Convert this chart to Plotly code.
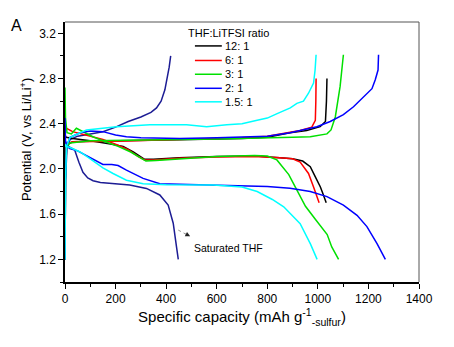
import plotly.graph_objects as go

# Galvanostatic charge/discharge profiles, specific capacity (mAh g-1 sulfur) vs potential (V)
series_names = ["12: 1", "6: 1", "3: 1", "2: 1", "1.5: 1"]
series_colors = ["#000000", "#ff0000", "#00e000", "#0000ff", "#00ffff"]
saturated_color = "#1c1c94"

# 12:1
r12_dis_cap = [0, 5, 30, 100, 180, 230, 270, 300, 315, 350, 450, 600, 750, 850, 900, 940, 970, 990, 1010, 1022, 1033]
r12_dis_v = [2.30, 2.28, 2.27, 2.25, 2.22, 2.20, 2.15, 2.11, 2.085, 2.085, 2.10, 2.11, 2.115, 2.10, 2.09, 2.07, 2.02, 1.93, 1.84, 1.77, 1.70]
r12_chg_cap = [0, 2, 6, 30, 100, 300, 500, 700, 800, 890, 956, 1009, 1030, 1034, 1036]
r12_chg_v = [1.70, 2.10, 2.21, 2.24, 2.245, 2.25, 2.26, 2.27, 2.28, 2.32, 2.34, 2.374, 2.42, 2.60, 2.80]

# 6:1
r6_dis_cap = [0, 5, 30, 100, 150, 200, 250, 290, 315, 350, 450, 600, 750, 850, 900, 930, 963, 983, 996, 1005]
r6_dis_v = [2.38, 2.36, 2.33, 2.29, 2.26, 2.22, 2.17, 2.11, 2.08, 2.08, 2.095, 2.105, 2.11, 2.10, 2.09, 2.06, 1.96, 1.84, 1.75, 1.70]
r6_chg_cap = [0, 2, 6, 30, 200, 500, 700, 800, 890, 930, 976, 990, 992, 993]
r6_chg_v = [1.70, 2.10, 2.22, 2.24, 2.245, 2.26, 2.275, 2.29, 2.32, 2.34, 2.37, 2.43, 2.60, 2.80]

# 3:1
r3_dis_cap = [0, 2, 8, 25, 45, 70, 110, 160, 210, 260, 295, 320, 360, 450, 600, 750, 800, 838, 860, 885, 911, 951, 990, 1037, 1055, 1082]
r3_dis_v = [2.72, 2.45, 2.32, 2.31, 2.36, 2.33, 2.285, 2.24, 2.20, 2.15, 2.10, 2.07, 2.075, 2.09, 2.11, 2.12, 2.115, 2.08, 2.02, 1.95, 1.84, 1.67, 1.555, 1.42, 1.31, 1.20]
r3_chg_cap = [0, 2, 6, 20, 100, 300, 600, 900, 970, 1036, 1052, 1069, 1088, 1101]
r3_chg_v = [1.20, 1.90, 2.20, 2.23, 2.25, 2.255, 2.265, 2.28, 2.285, 2.31, 2.345, 2.46, 2.73, 3.01]

# 2:1
r2_dis_cap = [0, 2, 8, 19, 50, 85, 150, 185, 210, 243, 280, 309, 375, 481, 641, 800, 890, 970, 1036, 1101, 1155, 1194, 1234, 1267]
r2_dis_v = [2.45, 2.25, 2.20, 2.18, 2.16, 2.12, 2.04, 2.04, 2.03, 1.99, 1.95, 1.917, 1.87, 1.864, 1.858, 1.845, 1.83, 1.80, 1.755, 1.68, 1.59, 1.49, 1.34, 1.20]
r2_chg_cap = [0, 2, 6, 20, 60, 100, 150, 200, 243, 300, 454, 600, 800, 851, 890, 930, 996, 1049, 1101, 1141, 1181, 1214, 1227, 1238, 1240]
r2_chg_v = [1.20, 1.90, 2.20, 2.28, 2.32, 2.335, 2.33, 2.30, 2.285, 2.275, 2.27, 2.275, 2.29, 2.305, 2.32, 2.34, 2.374, 2.42, 2.48, 2.55, 2.64, 2.71, 2.79, 2.875, 3.01]

# 1.5:1
r15_dis_cap = [0, 3, 20, 60, 100, 150, 190, 243, 309, 400, 586, 700, 760, 820, 865, 930, 971, 997]
r15_dis_v = [2.22, 2.20, 2.19, 2.15, 2.09, 2.01, 1.96, 1.90, 1.87, 1.86, 1.858, 1.84, 1.80, 1.73, 1.665, 1.515, 1.335, 1.20]
r15_chg_cap = [0, 2, 6, 20, 60, 85, 204, 336, 481, 560, 640, 700, 760, 800, 839, 891, 917, 943, 963, 983, 989, 993]
r15_chg_v = [1.20, 1.90, 2.20, 2.28, 2.32, 2.344, 2.374, 2.39, 2.39, 2.374, 2.39, 2.40, 2.43, 2.45, 2.49, 2.54, 2.58, 2.60, 2.67, 2.76, 2.875, 3.01]

# Saturated THF
sat_dis_cap = [0, 5, 20, 38, 55, 71, 90, 111, 140, 177, 256, 322, 375, 408, 428, 441, 448]
sat_dis_v = [2.25, 2.22, 2.19, 2.17, 2.06, 1.97, 1.92, 1.896, 1.88, 1.873, 1.858, 1.828, 1.77, 1.68, 1.52, 1.31, 1.20]
sat_chg_cap = [0, 2, 8, 20, 50, 100, 150, 200, 250, 300, 340, 362, 380, 395, 405, 412, 418]
sat_chg_v = [1.20, 1.90, 2.20, 2.26, 2.29, 2.31, 2.33, 2.37, 2.42, 2.46, 2.50, 2.54, 2.60, 2.70, 2.80, 2.90, 3.00]

x_ticks = [0, 200, 400, 600, 800, 1000, 1200, 1400]
y_ticks = [1.2, 1.6, 2.0, 2.4, 2.8, 3.2]

profiles = [
    (r12_dis_cap, r12_dis_v, r12_chg_cap, r12_chg_v),
    (r6_dis_cap, r6_dis_v, r6_chg_cap, r6_chg_v),
    (r3_dis_cap, r3_dis_v, r3_chg_cap, r3_chg_v),
    (r2_dis_cap, r2_dis_v, r2_chg_cap, r2_chg_v),
    (r15_dis_cap, r15_dis_v, r15_chg_cap, r15_chg_v),
]

FONT = "Arial, 'Liberation Sans', sans-serif"
LW = 1.5

fig = go.Figure()

# saturated THF drawn first, underneath the ratio series
for cx, cy in [(sat_dis_cap, sat_dis_v), (sat_chg_cap, sat_chg_v)]:
    fig.add_trace(go.Scatter(x=cx, y=cy, mode="lines", showlegend=False,
                             line=dict(color=saturated_color, width=LW)))

for name, color, (dx, dy, cx, cy) in zip(series_names, series_colors, profiles):
    fig.add_trace(go.Scatter(x=dx, y=dy, mode="lines", name=name, showlegend=False,
                             line=dict(color=color, width=LW)))
    fig.add_trace(go.Scatter(x=cx, y=cy, mode="lines", name=name, showlegend=False,
                             line=dict(color=color, width=LW)))

shapes = [
    # grey top and right frame
    dict(type="line", xref="paper", yref="paper", x0=0, x1=1, y0=1, y1=1,
         line=dict(color="#555555", width=1)),
    dict(type="line", xref="paper", yref="paper", x0=1, x1=1, y0=0, y1=1,
         line=dict(color="#555555", width=1)),
    # dotted pointer from the saturated THF curve towards its label
    dict(type="line", x0=448, y0=1.459, x1=485, y1=1.415,
         line=dict(color="#777777", width=0.8, dash="dot")),
]
annotations = [
    dict(text="A", xref="paper", yref="paper", x=-0.136, y=0.988, xanchor="center",
         yanchor="middle", showarrow=False, font=dict(family=FONT, size=16, color="#000")),
    dict(text="Potential (V, vs Li/Li<sup>+</sup>)", xref="paper", yref="paper",
         x=-0.11, y=0.546, textangle=-90, xanchor="center", yanchor="middle",
         showarrow=False, font=dict(family=FONT, size=13, color="#000")),
    dict(text="THF:LiTFSI ratio", xref="paper", yref="paper", x=0.343, y=0.959,
         xanchor="left", yanchor="middle", showarrow=False,
         font=dict(family=FONT, size=11, color="#000")),
    dict(text="", x=495, y=1.404, ax=472, ay=1.431, axref="x", ayref="y",
         showarrow=True, arrowhead=2, arrowsize=1.2, arrowwidth=0.8, arrowcolor="#222"),
    dict(text="Saturated THF", x=502, y=1.30, xanchor="left", yanchor="middle",
         showarrow=False, font=dict(family=FONT, size=10.5, color="#000")),
]

# legend keys
legend_y = [0.908, 0.852, 0.799, 0.745, 0.693]
for name, color, ly in zip(series_names, series_colors, legend_y):
    shapes.append(dict(type="line", xref="paper", yref="paper", x0=0.367, x1=0.443,
                       y0=ly, y1=ly, line=dict(color=color, width=LW)))
    annotations.append(dict(text=name, xref="paper", yref="paper", x=0.447, y=ly,
                            xanchor="left", yanchor="middle", showarrow=False,
                            font=dict(family=FONT, size=11, color="#000")))

axis_common = dict(
    showgrid=False, zeroline=False, showline=True, linecolor="#000", linewidth=1.5,
    ticks="outside", ticklen=5, tickwidth=1, tickcolor="#000",
    tickfont=dict(family=FONT, size=12, color="#000"),
)

fig.update_layout(
    width=454, height=347,
    margin=dict(l=65, r=35, t=22, b=65),
    paper_bgcolor="white", plot_bgcolor="white",
    showlegend=False,
    shapes=shapes, annotations=annotations,
    xaxis=dict(range=[0, 1400], tickvals=x_ticks, ticktext=[str(v) for v in x_ticks],
               minor=dict(dtick=100, tick0=0, ticks="outside", ticklen=3, tickcolor="#000"),
               title=dict(text="Specific capacity (mAh g<sup>-1</sup><sub>-sulfur</sub>)",
                          font=dict(family=FONT, size=15, color="#000"), standoff=6),
               **axis_common),
    yaxis=dict(range=[1.0, 3.3], tickvals=y_ticks, ticktext=[f"{v:.1f}" for v in y_ticks],
               minor=dict(dtick=0.2, tick0=1.0, ticks="outside", ticklen=3, tickcolor="#000"),
               **axis_common),
)

fig.write_html("out.html")
